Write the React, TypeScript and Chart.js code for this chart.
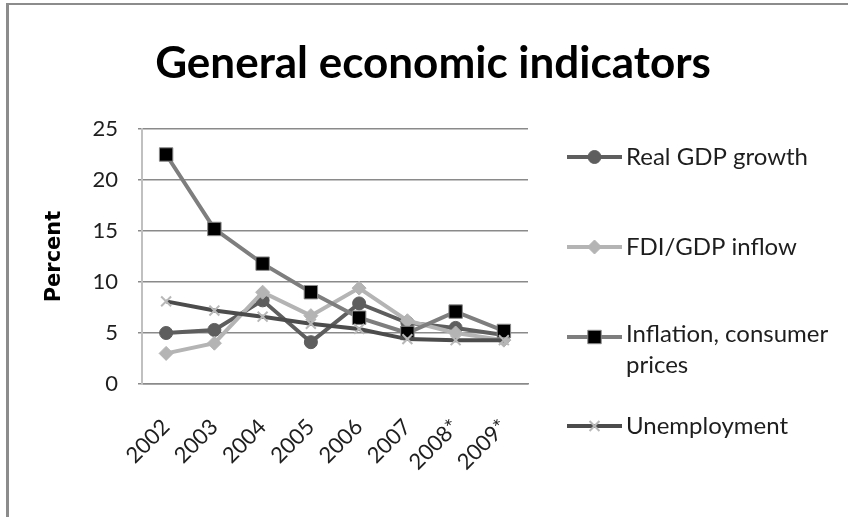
import { useEffect, useRef } from 'react';
import { Chart, registerables } from 'chart.js';
import { drawPoint } from 'chart.js/helpers';

Chart.register(...registerables);

// Survey years (starred years are estimates)
const years = ['2002', '2003', '2004', '2005', '2006', '2007', '2008*', '2009*'];

// Indicator series, percent
const realGdpGrowth = [5.0, 5.3, 8.2, 4.1, 7.9, 6.0, 5.5, 4.8];
const fdiGdpInflow = [3.0, 4.0, 9.0, 6.7, 9.4, 6.2, 5.0, 4.3];
const inflationConsumerPrices = [22.5, 15.2, 11.8, 9.0, 6.5, 5.0, 7.1, 5.2];
const unemployment = [8.1, 7.2, 6.6, 5.9, 5.4, 4.4, 4.3, 4.3];

// Legend captions (multi-line entries are arrays)
const legendLabels: (string | string[])[] = [
  'Real GDP growth',
  'FDI/GDP inflow',
  ['Inflation, consumer', 'prices'],
  'Unemployment',
];

const chartTitle = 'General economic indicators';
const yAxisTitle = 'Percent';

const W = 848;
const H = 517;
const FONT = 'Lato, "Open Sans", sans-serif';

// White page with a grey frame along the left and top edges
const framePlugin = {
  id: 'frame',
  beforeDraw(chart: Chart) {
    const { ctx } = chart;
    ctx.save();
    ctx.fillStyle = '#ffffff';
    ctx.fillRect(0, 0, W, H);
    ctx.fillStyle = '#8c8c8c';
    ctx.fillRect(6, 3, 3, H);
    ctx.fillRect(6, 3, W, 2);
    ctx.restore();
  },
};

// Heading centred above plot + legend
const headingPlugin = {
  id: 'heading',
  afterDraw(chart: Chart) {
    const { ctx } = chart;
    ctx.save();
    ctx.font = `bold 44px ${FONT}`;
    ctx.fillStyle = '#000000';
    ctx.textAlign = 'center';
    ctx.textBaseline = 'alphabetic';
    ctx.fillText(chartTitle, 433, 78);
    ctx.restore();
  },
};

// Legend to the right of the plot area, one row per dataset
const legendRows = [157, 247, 337, 426];
const sideLegendPlugin = {
  id: 'sideLegend',
  afterDraw(chart: Chart) {
    const { ctx, chartArea } = chart;
    const x0 = chartArea.right + 39;
    const x1 = chartArea.right + 94;
    const tx = chartArea.right + 98;
    ctx.save();
    chart.data.datasets.forEach((ds: any, i: number) => {
      const y = legendRows[i];
      ctx.strokeStyle = ds.borderColor;
      ctx.lineWidth = ds.borderWidth;
      ctx.beginPath();
      ctx.moveTo(x0, y);
      ctx.lineTo(x1, y);
      ctx.stroke();
      ctx.fillStyle = ds.pointBackgroundColor;
      ctx.strokeStyle = ds.pointBorderColor;
      ctx.lineWidth = ds.pointBorderWidth;
      drawPoint(ctx, { pointStyle: ds.pointStyle, radius: ds.pointRadius, rotation: 0, borderWidth: ds.pointBorderWidth }, (x0 + x1) / 2, y);
      const label = legendLabels[i];
      const lines = Array.isArray(label) ? label : [label];
      ctx.fillStyle = '#1e1e1e';
      ctx.font = `24px ${FONT}`;
      ctx.textAlign = 'left';
      ctx.textBaseline = 'middle';
      lines.forEach((t, k) => ctx.fillText(t, tx, y - (lines.length - 1) * 3 + k * 31));
    });
    ctx.restore();
  },
};

export default function App() {
  const canvasRef = useRef<HTMLCanvasElement | null>(null);

  useEffect(() => {
    const canvas = canvasRef.current;
    if (!canvas) return;
    const chart = new Chart(canvas, {
      type: 'line',
      data: {
        labels: years,
        datasets: [
          {
            label: 'Real GDP growth',
            data: realGdpGrowth,
            borderColor: '#5e5e5e',
            borderWidth: 4,
            pointStyle: 'circle',
            pointRadius: 6.5,
            pointBackgroundColor: '#5e5e5e',
            pointBorderColor: '#5e5e5e',
            pointBorderWidth: 1,
            order: 4,
          },
          {
            label: 'FDI/GDP inflow',
            data: fdiGdpInflow,
            borderColor: '#b4b4b4',
            borderWidth: 4,
            pointStyle: 'rectRot',
            pointRadius: 7,
            pointBackgroundColor: '#b4b4b4',
            pointBorderColor: '#b4b4b4',
            pointBorderWidth: 1,
            order: 3,
          },
          {
            label: 'Inflation, consumer prices',
            data: inflationConsumerPrices,
            borderColor: '#7e7e7e',
            borderWidth: 4,
            pointStyle: 'rect',
            pointRadius: 9.5,
            pointBackgroundColor: '#000000',
            pointBorderColor: '#8a8a8a',
            pointBorderWidth: 1,
            order: 2,
          },
          {
            label: 'Unemployment',
            data: unemployment,
            borderColor: '#4c4c4c',
            borderWidth: 4,
            pointStyle: 'crossRot',
            pointRadius: 7,
            pointBackgroundColor: '#b8b8b8',
            pointBorderColor: '#b8b8b8',
            pointBorderWidth: 2,
            order: 1,
          },
        ],
      },
      options: {
        responsive: false,
        animation: false,
        devicePixelRatio: 1,
        layout: { padding: { left: 0, right: 320, top: 129, bottom: 0 } },
        elements: { line: { tension: 0 } },
        plugins: {
          legend: { display: false },
          title: { display: false },
          tooltip: { enabled: false },
        },
        scales: {
          x: {
            type: 'category',
            offset: true,
            grid: { display: false },
            border: { color: '#8a8a8a', width: 1.5 },
            ticks: {
              minRotation: 45,
              maxRotation: 45,
              padding: 22,
              color: '#1e1e1e',
              font: { family: FONT, size: 22 },
            },
            afterFit: (s: any) => {
              s.height = 133;
            },
          },
          y: {
            min: 0,
            max: 25,
            ticks: {
              stepSize: 5,
              padding: 20,
              color: '#1e1e1e',
              font: { family: FONT, size: 22 },
            },
            grid: { color: '#8a8a8a', lineWidth: 1.5, tickLength: 4, drawTicks: true },
            border: { color: '#c0c0c0', width: 2 },
            title: {
              display: true,
              text: yAxisTitle,
              color: '#000000',
              font: { family: '"DejaVu Sans", sans-serif', size: 21, weight: 'bold' },
              padding: { top: 42, bottom: 0 },
            },
            afterFit: (s: any) => {
              s.width = 142;
            },
          },
        },
      },
      plugins: [framePlugin, headingPlugin, sideLegendPlugin],
    });
    return () => chart.destroy();
  }, []);

  return (
    <div style={{ position: 'fixed', left: 0, top: 0, width: W, height: H, background: '#fff' }}>
      <canvas ref={canvasRef} width={W} height={H} />
    </div>
  );
}
